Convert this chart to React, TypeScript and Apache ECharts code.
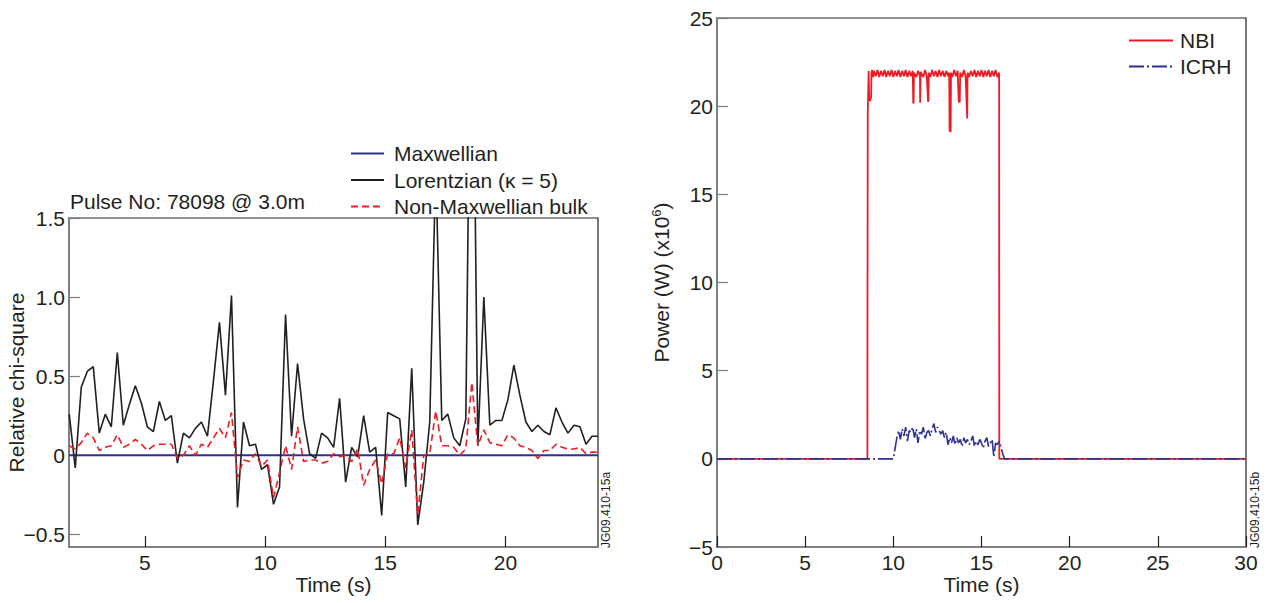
import React, { useEffect, useRef } from "react";
import * as echarts from "echarts";

const FONT = "'Liberation Sans', Arial, Helvetica, sans-serif";
const INK = "#231f20";
const AXIS_GRAY = "#7d7f82";
const NAVY = "#2e3192";
const RED = "#ed1c24";
const FS = 21;

// ---------- Left panel: relative chi-square ----------
const PULSE_LABEL = "Pulse No: 78098 @ 3.0m";
const CHI_T0 = 1.85;
const CHI_DT = 0.25;
const MAXWELLIAN_LEVEL = 0;
const lorentzian = [
  0.26, -0.08, 0.43, 0.53, 0.56, 0.14, 0.26, 0.18, 0.65, 0.19,
  0.32, 0.44, 0.33, 0.18, 0.15, 0.34, 0.22, 0.25, -0.05, 0.14,
  0.11, 0.17, 0.21, 0.12, 0.47, 0.84, 0.38, 1.01, -0.33, 0.21,
  0.06, 0.07, -0.09, -0.06, -0.31, -0.2, 0.89, 0.12, 0.58, 0.23,
  0.01, -0.02, 0.14, 0.11, 0.05, 0.36, -0.17, 0.05, -0.01, 0.25,
  0.02, 0.05, -0.38, 0.27, 0.25, 0.23, -0.2, 0.55, -0.44, -0.17,
  0.21, 1.85, 0.22, 0.26, 0.11, 0.06, 0.23, 3.5, 0.06, 1.0,
  0.19, 0.22, 0.22, 0.35, 0.57, 0.38, 0.21, 0.15, 0.19, 0.15,
  0.13, 0.3, 0.21, 0.14, 0.19, 0.18, 0.07, 0.12, 0.12,
];
const nonMaxwellian = [
  0.06, 0.04, 0.08, 0.14, 0.11, 0.03, 0.05, 0.06, 0.13, 0.05,
  0.07, 0.1, 0.07, 0.03, 0.06, 0.07, 0.07, 0.07, -0.02, 0.0,
  0.06, 0.0, 0.07, 0.05, 0.11, 0.17, 0.11, 0.27, -0.14, -0.03,
  -0.04, 0.01, -0.07, -0.03, -0.27, -0.11, 0.06, -0.09, 0.18, -0.04,
  -0.03, -0.03, -0.05, -0.04, 0.01, -0.01, 0.0, -0.04, 0.04, -0.19,
  -0.09, -0.03, -0.18, 0.01, 0.01, 0.11, -0.08, 0.16, -0.38, 0.0,
  0.01, 0.28, 0.06, 0.06, 0.05, 0.0, 0.04, 0.46, 0.06, 0.16,
  0.08, 0.07, 0.06, 0.13, 0.11, 0.06, 0.05, 0.03, -0.02, 0.03,
  0.03, 0.07, 0.05, 0.04, 0.04, 0.05, 0.01, 0.02, 0.02,
];
const chiTicksX = [5, 10, 15, 20];
const chiTicksY = [-0.5, 0, 0.5, 1.0, 1.5];
const CHI_NAMES = ["Maxwellian", "Lorentzian (\u03ba = 5)", "Non-Maxwellian bulk"];

// ---------- Right panel: heating power ----------
const nbiSamples: [number, number][] = [
  [0, 0], [8.53, 0], [8.535, 10.4], [8.54, 10.7], [8.545, 16.7], [8.55, 19.6], [8.57, 20.6],
  [8.6, 22.0], [8.63, 20.4], [8.68, 20.3], [8.74, 20.5], [8.76, 21.9],
  [8.8, 22.05], [8.85, 21.65], [8.9, 22.0], [9.0, 21.7], [9.1, 22.05], [9.2, 21.65], [9.3, 22.0],
  [9.4, 21.7], [9.5, 22.05], [9.6, 21.65], [9.7, 22.0], [9.8, 21.7], [9.9, 22.05], [10.0, 21.65],
  [10.1, 22.0], [10.2, 21.7], [10.3, 22.05], [10.4, 21.65], [10.5, 22.0], [10.6, 21.7], [10.7, 22.05],
  [10.8, 21.65], [10.9, 22.0], [11.0, 21.7], [11.1, 22.0], [11.13, 20.2], [11.15, 20.15], [11.17, 21.9],
  [11.3, 21.65], [11.4, 22.0], [11.51, 21.7], [11.52, 20.2], [11.54, 20.2], [11.55, 21.95],
  [11.7, 21.65], [11.8, 22.05], [11.9, 21.7], [11.97, 20.25], [11.99, 20.3], [12.01, 21.9],
  [12.1, 21.65], [12.2, 22.05], [12.3, 21.7], [12.4, 22.0], [12.5, 21.65], [12.6, 22.05],
  [12.7, 21.7], [12.8, 22.0], [12.9, 21.65], [13.0, 22.0], [13.1, 21.7], [13.17, 21.9],
  [13.19, 18.6], [13.25, 18.55], [13.27, 21.9], [13.35, 21.65], [13.45, 22.05], [13.55, 21.7],
  [13.65, 22.0], [13.71, 20.25], [13.77, 20.25], [13.79, 21.9], [13.9, 21.65], [14.0, 22.05],
  [14.1, 21.7], [14.19, 19.3], [14.21, 21.9], [14.3, 21.65], [14.4, 22.0], [14.5, 21.7],
  [14.6, 22.05], [14.7, 21.65], [14.8, 22.0], [14.9, 21.7], [15.0, 22.05], [15.1, 21.65],
  [15.2, 22.0], [15.3, 21.7], [15.4, 22.05], [15.5, 21.65], [15.6, 22.0], [15.7, 21.7],
  [15.8, 22.05], [15.9, 21.65], [16.0, 21.9], [16.01, 0], [30, 0],
];
const ICRH_T0 = 10.0;
const ICRH_DT = 0.1;
const icrhActive = [
  0.0, 0.6, 1.2, 1.6, 1.1, 1.7, 1.3, 1.8, 1.0, 1.6,
  1.5, 1.8, 1.2, 1.7, 0.9, 1.6, 1.4, 1.8, 1.1, 1.5,
  1.6, 1.3, 1.7, 2.0, 1.5, 1.8, 1.6, 1.4, 1.6, 1.2,
  1.5, 0.8, 1.2, 0.9, 1.3, 0.8, 1.2, 0.9, 1.1, 0.7,
  1.2, 0.9, 1.1, 0.8, 1.0, 1.3, 0.7, 1.0, 0.8, 1.1,
  0.9, 0.6, 1.0, 1.2, 0.7, 0.9, 1.1, 0.1, 0.9, 0.8,
  1.0, 0.7, 0.3, 0.0,
];
const ICRH_OFF_LEVEL = 0;
const POWER_X_RANGE = [0, 30];
const POWER_Y_RANGE = [-5, 25];

const fmtChi = (v: number) =>
  v === 0 ? "0" : v < 0 ? "\u2212" + Math.abs(v).toFixed(1) : v.toFixed(1);
const fmtInt = (v: number) => (v < 0 ? "\u2212" + Math.abs(v) : String(v));

export default function App() {
  const ref = useRef<HTMLDivElement>(null);

  useEffect(() => {
    if (!ref.current) return;
    const chart = echarts.init(ref.current, undefined, { renderer: "svg" });

    const chiTimes = lorentzian.map((_, i) => +(CHI_T0 + i * CHI_DT).toFixed(3));
    const icrhData: [number, number][] = [
      [POWER_X_RANGE[0], ICRH_OFF_LEVEL],
      ...icrhActive.map((v, i) => [+(ICRH_T0 + i * ICRH_DT).toFixed(2), v] as [number, number]),
      [POWER_X_RANGE[1], ICRH_OFF_LEVEL],
    ];

    const baseAxisLine = { show: true, onZero: false, lineStyle: { color: AXIS_GRAY, width: 2 } };
    const labelStyle = { fontSize: FS, color: INK, fontFamily: FONT };
    const nameStyle = { fontSize: FS, color: INK, fontFamily: FONT };
    const hiddenSymbol = { color: "rgba(0,0,0,0)", borderWidth: 0, opacity: 0 };

    chart.setOption({
      animation: false,
      textStyle: { fontFamily: FONT, color: INK },
      grid: [
        { left: 69, top: 218, width: 529, height: 329, show: true, borderColor: INK, borderWidth: 1.2, backgroundColor: "transparent" },
        { left: 717, top: 18, width: 529, height: 529, show: true, borderColor: INK, borderWidth: 1.2, backgroundColor: "transparent" },
      ],
      xAxis: [
        {
          gridIndex: 0, type: "value", min: 1.84, max: 23.85,
          name: "Time (s)", nameLocation: "middle", nameGap: 27, nameMoveOverlap: false, nameTextStyle: nameStyle,
          axisLine: baseAxisLine,
          axisTick: { show: true, inside: true, length: 11, customValues: chiTicksX, lineStyle: { color: INK, width: 1.2 } },
          axisLabel: { ...labelStyle, margin: 5, customValues: chiTicksX, formatter: fmtInt },
          splitLine: { show: false },
        },
        {
          gridIndex: 1, type: "value", min: POWER_X_RANGE[0], max: POWER_X_RANGE[1], interval: 5,
          name: "Time (s)", nameLocation: "middle", nameGap: 27, nameMoveOverlap: false, nameTextStyle: nameStyle,
          axisLine: baseAxisLine,
          axisTick: { show: true, inside: true, length: 11, lineStyle: { color: INK, width: 1.2 } },
          axisLabel: { ...labelStyle, margin: 5, formatter: fmtInt, showMinLabel: true, showMaxLabel: true },
          splitLine: { show: false },
        },
      ],
      yAxis: [
        {
          gridIndex: 0, type: "value", min: -0.58, max: 1.5,
          name: "Relative chi-square", nameLocation: "middle", nameGap: 42, nameMoveOverlap: false, nameTextStyle: nameStyle,
          axisLine: baseAxisLine,
          axisTick: { show: true, inside: true, length: 11, customValues: chiTicksY, lineStyle: { color: AXIS_GRAY, width: 1.2 } },
          axisLabel: { ...labelStyle, margin: 4, customValues: chiTicksY, formatter: fmtChi },
          splitLine: { show: false },
        },
        {
          gridIndex: 1, type: "value", min: POWER_Y_RANGE[0], max: POWER_Y_RANGE[1], interval: 5,
          name: "{a|Power (W) (x10}{b|6}{a|)}", nameLocation: "middle", nameGap: 44, nameMoveOverlap: false,
          nameTextStyle: {
            ...nameStyle,
            rich: {
              a: { fontSize: FS, color: INK, fontFamily: FONT },
              b: { fontSize: 13, color: INK, fontFamily: FONT, padding: [0, 0, 10, 0] },
            },
          },
          axisLine: baseAxisLine,
          axisTick: { show: true, inside: true, length: 11, lineStyle: { color: AXIS_GRAY, width: 1.2 } },
          axisLabel: { ...labelStyle, margin: 4, formatter: fmtInt, showMinLabel: true, showMaxLabel: true },
          splitLine: { show: false },
        },
      ],
      legend: [
        {
          data: CHI_NAMES, orient: "vertical", left: 350, top: 143, padding: 0,
          itemWidth: 33, itemHeight: 14, itemGap: 5.5, selectedMode: false,
          itemStyle: hiddenSymbol,
          textStyle: { fontSize: FS, color: INK, fontFamily: FONT, lineHeight: 20, padding: [0, 0, 0, 5] },
        },
        {
          data: ["NBI", "ICRH"], orient: "vertical", left: 1128, top: 30, padding: 0,
          itemWidth: 44, itemHeight: 14, itemGap: 5, selectedMode: false,
          itemStyle: hiddenSymbol,
          textStyle: { fontSize: FS, color: INK, fontFamily: FONT, lineHeight: 20, padding: [0, 0, 0, 2] },
        },
      ],
      series: [
        {
          name: CHI_NAMES[0], type: "line", xAxisIndex: 0, yAxisIndex: 0,
          data: chiTimes.map((t) => [t, MAXWELLIAN_LEVEL]),
          symbol: "none", showSymbol: false, z: 2,
          lineStyle: { color: NAVY, width: 2 }, itemStyle: { color: NAVY },
        },
        {
          name: CHI_NAMES[1], type: "line", xAxisIndex: 0, yAxisIndex: 0,
          data: chiTimes.map((t, i) => [t, lorentzian[i]]),
          symbol: "none", showSymbol: false, z: 3,
          lineStyle: { color: INK, width: 1.6 }, itemStyle: { color: INK },
        },
        {
          name: CHI_NAMES[2], type: "line", xAxisIndex: 0, yAxisIndex: 0,
          data: chiTimes.map((t, i) => [t, nonMaxwellian[i]]),
          symbol: "none", showSymbol: false, z: 4,
          lineStyle: { color: RED, width: 1.6, type: [7, 4] }, itemStyle: { color: RED },
        },
        {
          name: "NBI", type: "line", xAxisIndex: 1, yAxisIndex: 1,
          data: nbiSamples,
          symbol: "none", showSymbol: false, z: 2,
          lineStyle: { color: RED, width: 1.8 }, itemStyle: { color: RED },
        },
        {
          name: "ICRH", type: "line", xAxisIndex: 1, yAxisIndex: 1,
          data: icrhData,
          symbol: "none", showSymbol: false, z: 3,
          lineStyle: { color: NAVY, width: 1.6, type: [15, 3, 2, 3] }, itemStyle: { color: NAVY },
        },
      ],
      graphic: [
        {
          type: "text", left: 70, top: 191,
          style: { text: PULSE_LABEL, fontSize: FS, fill: INK, fontFamily: FONT },
        },
        {
          type: "text", x: 612, y: 548, rotation: Math.PI / 2,
          style: { text: "JG09.410-15a", fontSize: 12, fill: INK, fontFamily: FONT, textAlign: "left", textVerticalAlign: "bottom" },
        },
        {
          type: "text", x: 1261, y: 548, rotation: Math.PI / 2,
          style: { text: "JG09.410-15b", fontSize: 12, fill: INK, fontFamily: FONT, textAlign: "left", textVerticalAlign: "bottom" },
        },
      ],
    });

    return () => chart.dispose();
  }, []);

  return (
    <div
      ref={ref}
      style={{ position: "fixed", left: 0, top: 0, width: 1273, height: 603, background: "#fff" }}
    />
  );
}
